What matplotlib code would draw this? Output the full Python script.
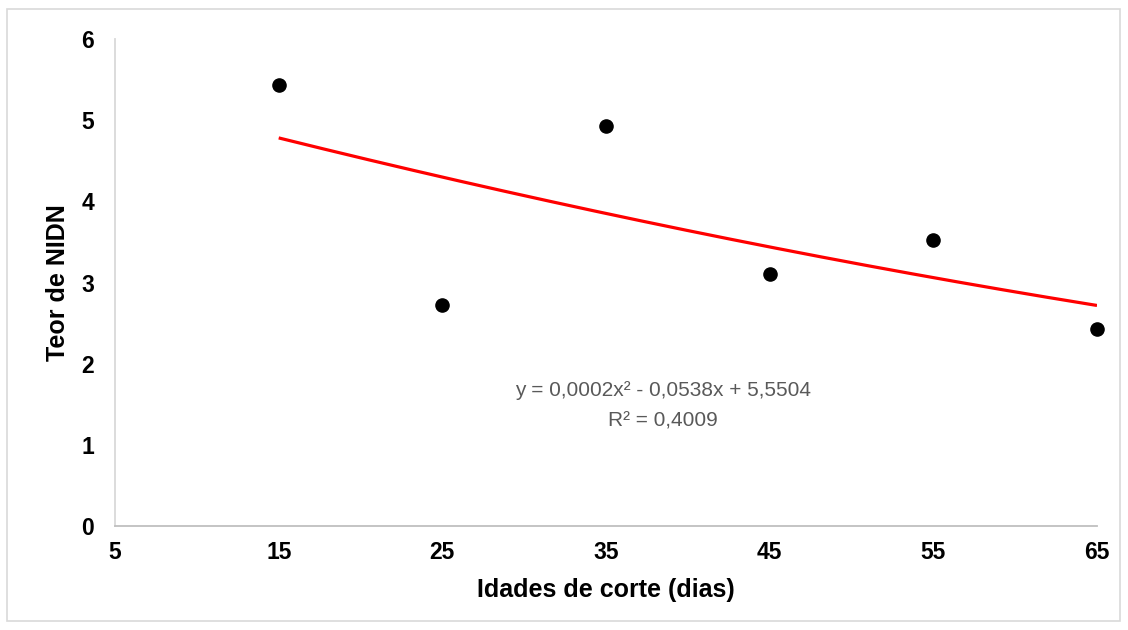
import numpy as np
import matplotlib.pyplot as plt
from matplotlib.patches import Rectangle

# cutting age (days) and NIDN content
idades = [15, 25, 35, 45, 55, 65]
teor_nidn = [5.44, 2.72, 4.93, 3.10, 3.53, 2.43]

x_ticks = [5, 15, 25, 35, 45, 55, 65]
y_ticks = [0, 1, 2, 3, 4, 5, 6]

eq_line = "y = 0,0002x² - 0,0538x + 5,5504"
r2_line = "R² = 0,4009"

plt.rcParams['font.family'] = ['Liberation Sans', 'DejaVu Sans']

fig = plt.figure(figsize=(11.28, 6.3), dpi=100)
ax = fig.add_axes([0.102, 0.165, 0.8705, 0.773])

# polynomial trendline (order 2), like the spreadsheet one
coef = np.polyfit(idades, teor_nidn, 2)
xs = np.linspace(min(idades), max(idades), 200)
ax.plot(xs, np.polyval(coef, xs), color='#ff0000', lw=2.3, zorder=2,
        solid_capstyle='butt')

ax.scatter(idades, teor_nidn, s=90, color='black', zorder=3, clip_on=False)

ax.text(38.5, 1.675, eq_line, ha='center', va='center', fontsize=15,
        color='#595959')
ax.text(38.5, 1.29, r2_line, ha='center', va='center', fontsize=15,
        color='#595959')

ax.set_xlim(5, 65)
ax.set_ylim(0, 6)
ax.set_xticks(x_ticks)
ax.set_yticks(y_ticks)
ax.tick_params(length=0, labelsize=16.5)
ax.tick_params(axis='x', pad=11)
ax.tick_params(axis='y', pad=15)
for lab in ax.get_xticklabels() + ax.get_yticklabels():
    lab.set_fontweight('bold')

ax.set_xlabel('Idades de corte (dias)', fontsize=18, fontweight='bold', labelpad=10)
ax.set_ylabel('Teor de NIDN', fontsize=18, fontweight='bold', labelpad=8)

for side in ['top', 'right']:
    ax.spines[side].set_visible(False)
ax.spines['left'].set_color('#d9d9d9')
ax.spines['bottom'].set_color('#bfbfbf')
ax.spines['left'].set_linewidth(1.3)
ax.spines['bottom'].set_linewidth(1.3)

# light frame round the whole chart
fig.patches.append(Rectangle((7 / 1128, 9 / 630), 1113 / 1128, 612 / 630,
                             transform=fig.transFigure, fill=False,
                             edgecolor='#d9d9d9', lw=1.2))

fig.savefig('out.png', dpi=100)
